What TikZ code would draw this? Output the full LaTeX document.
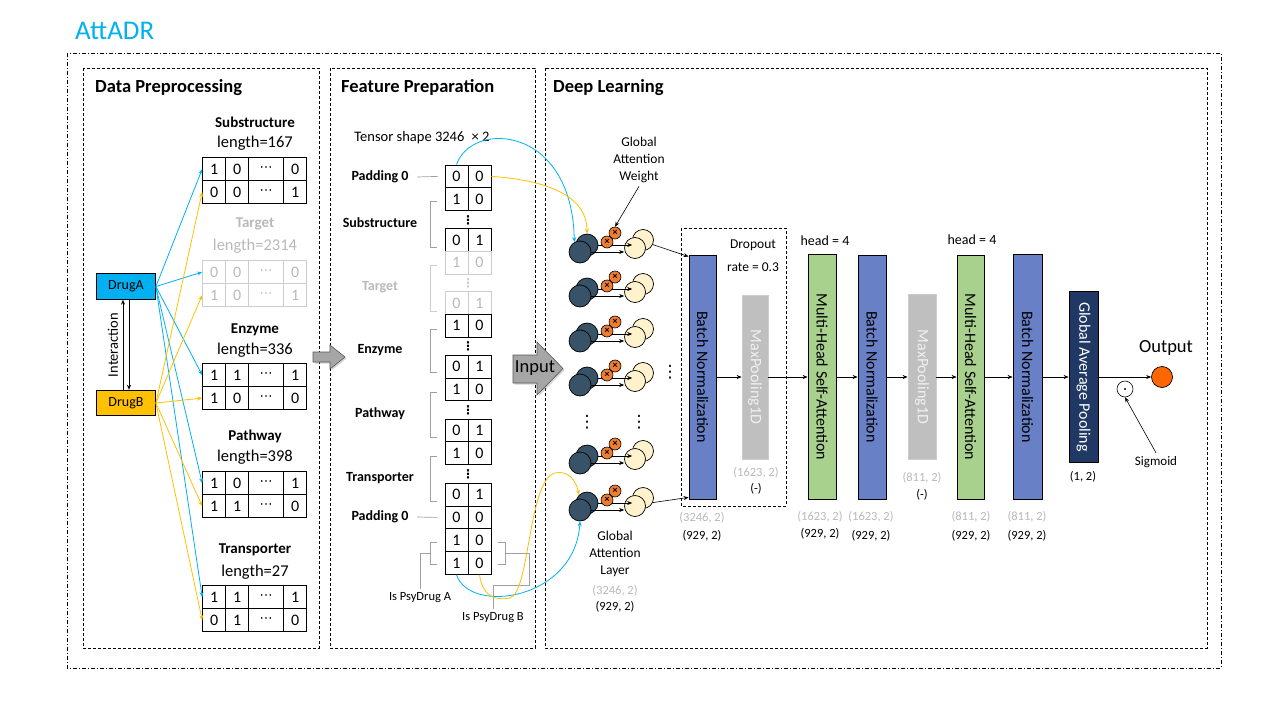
\documentclass[tikz,border=0pt]{standalone}
\usepackage{fontspec}
\setmainfont{Carlito}
\newfontfamily\dotsfont{DejaVu Sans}
\usetikzlibrary{positioning}
\usetikzlibrary{arrows.meta}
\usetikzlibrary{matrix}
\usetikzlibrary{shadows}

\definecolor{drugblue}{RGB}{0,176,240}
\definecolor{drugyellow}{RGB}{255,192,0}
\definecolor{bnblue}{RGB}{104,128,198}
\definecolor{attgreen}{RGB}{169,209,142}
\definecolor{poolgrey}{RGB}{191,191,191}
\definecolor{gapnavy}{RGB}{31,56,100}
\definecolor{shapegrey}{RGB}{185,185,185}
\definecolor{targetgrey}{RGB}{205,205,205}
\definecolor{bracketgrey}{RGB}{160,160,160}
\definecolor{neurondark}{RGB}{56,82,104}
\definecolor{neuronlight}{RGB}{255,242,204}
\definecolor{weightorange}{RGB}{237,125,49}
\definecolor{outorange}{RGB}{255,102,0}
\definecolor{inputgrey}{RGB}{166,166,166}

\begin{document}
\begin{tikzpicture}[x=1pt, y=-1pt, >={Stealth[length=5pt,width=4pt]},
    outer/.style={draw, line width=0.8pt, dash pattern=on 4pt off 2pt on 1pt off 2pt},
    panel/.style={draw, line width=0.8pt, dash pattern=on 3pt off 2pt},
    ptitle/.style={anchor=base west, inner sep=0pt, font=\fontsize{18.5}{22}\selectfont\bfseries},
    drug/.style={draw, line width=0.8pt, minimum width=59pt, minimum height=25.5pt, font=\fontsize{14}{17}\selectfont},
    ttitle/.style={font=\fontsize{15}{18}\selectfont\bfseries},
    tlen/.style={font=\fontsize{16.5}{19}\selectfont},
    tbl/.style={matrix of nodes, inner sep=0pt, column sep=-0.8pt, row sep=-0.8pt, anchor=north west,
        nodes={draw, line width=0.8pt, anchor=center, minimum width=23pt, minimum height=23pt, inner sep=0pt, font=\fontsize{16}{19}\selectfont},
        column 3/.style={nodes={minimum width=35pt, font=\fontsize{13}{19}\dotsfont}}},
    fcell/.style={draw, line width=0.8pt, minimum width=23pt, minimum height=22.8pt, inner sep=0pt, font=\fontsize{16}{19}\selectfont},
    flabel/.style={font=\fontsize{14}{17}\selectfont\bfseries},
    fdots/.style={inner sep=0pt, font=\fontsize{12}{12}\dotsfont\bfseries},
    ndots/.style={inner sep=0pt, font=\fontsize{17}{17}\dotsfont},
    bline/.style={draw=bracketgrey, line width=0.7pt},
    barrow/.style={->, draw=drugblue, line width=0.8pt},
    yarrow/.style={->, draw=drugyellow, line width=0.8pt},
    arr/.style={->, line width=0.8pt},
    blockarrow/.style={fill=inputgrey, draw=black!65, line width=0.6pt, drop shadow={shadow xshift=1.5pt, shadow yshift=-1.5pt, opacity=0.35}},
    ndark/.style={circle, draw, line width=0.7pt, fill=neurondark, minimum size=22pt, inner sep=0pt},
    nlight/.style={circle, draw, line width=0.7pt, fill=neuronlight, minimum size=21pt, inner sep=0pt},
    nweight/.style={circle, draw, line width=0.6pt, fill=weightorange, minimum size=12pt, inner sep=0pt, font=\fontsize{10}{10}\selectfont\bfseries},
    layer/.style={draw, line width=0.8pt, rotate=-90, inner sep=0pt, font=\fontsize{16}{19}\selectfont},
    dlabel/.style={font=\fontsize{13.5}{17}\selectfont, align=center},
    dimg/.style={text=shapegrey, font=\fontsize{12.5}{14}\selectfont},
    dimb/.style={font=\fontsize{12.5}{14}\selectfont}]

\useasboundingbox (0,0) rectangle (1280,720);

\node[anchor=base west, inner sep=0pt, text=drugblue, font=\fontsize{27}{32}\selectfont] (title) at (75,39) {AttADR};
\draw[outer] (67,53) rectangle (1221,668);
\draw[panel] (83,68) rectangle (319,648);
\draw[panel] (330,68) rectangle (535,648);
\draw[panel] (545,68) rectangle (1207,648);
\node[ptitle] (dataT) at (95,92) {Data Preprocessing};
\node[ptitle] (featT) at (341,92) {Feature Preparation};
\node[ptitle] (deepT) at (553,92) {Deep Learning};

% data preprocessing
\node[drug, fill=drugblue] (drugA) at (126,286.5) {DrugA};
\node[drug, fill=drugyellow] (drugB) at (126,403) {DrugB};
\draw[arr] ([xshift=-3pt]drugB.north) -- ([xshift=-3pt]drugA.south);
\draw[arr] ([xshift=3pt]drugA.south) -- ([xshift=3pt]drugB.north);
\node[rotate=90, font=\fontsize{14.5}{17}\selectfont] (inter) at (113,345) {Interaction};

\node[ttitle] (subT) at (255,122) {Substructure};
\node[tlen] (subL) at (255,143) {length=167};
\matrix (sub) [tbl] at (202,157) {1 & 0 & ⋯ & 0\\ 0 & 0 & ⋯ & 1\\};
\node[ttitle, text=shapegrey] (tarT) at (255,224) {Target};
\node[tlen, text=shapegrey] (tarL) at (255,246) {length=2314};
\matrix (tar) [tbl, nodes={draw=targetgrey, text=shapegrey}] at (202,260) {0 & 0 & ⋯ & 0\\ 1 & 0 & ⋯ & 1\\};
\node[ttitle] (enzT) at (255,330) {Enzyme};
\node[tlen] (enzL) at (255,350) {length=336};
\matrix (enz) [tbl] at (202,363) {1 & 1 & ⋯ & 1\\ 1 & 0 & ⋯ & 0\\};
\node[ttitle] (patT) at (255,436) {Pathway};
\node[tlen] (patL) at (255,457) {length=398};
\matrix (pat) [tbl] at (202,471) {1 & 0 & ⋯ & 1\\ 1 & 1 & ⋯ & 0\\};
\node[ttitle] (traT) at (255,550) {Transporter};
\node[tlen] (traL) at (255,572) {length=27};
\matrix (tra) [tbl] at (202,585) {1 & 1 & ⋯ & 1\\ 0 & 1 & ⋯ & 0\\};

\draw[barrow] (drugA.east) -- (sub-1-1.west);
\draw[barrow] (drugA.east) -- (tar-1-1.west);
\draw[barrow] (drugA.east) -- (enz-1-1.west);
\draw[barrow] (drugA.east) -- (pat-1-1.west);
\draw[barrow] (drugA.east) -- (tra-1-1.west);
\draw[yarrow] (drugB.east) -- (sub-2-1.west);
\draw[yarrow] (drugB.east) -- (tar-2-1.west);
\draw[yarrow] (drugB.east) -- (enz-2-1.west);
\draw[yarrow] (drugB.east) -- (pat-2-1.west);
\draw[yarrow] (drugB.east) -- (tra-2-1.west);

\filldraw[blockarrow] (313,352) -- (330,352) -- (330,345) -- (345,357) -- (330,369) -- (330,362) -- (313,362) -- cycle;

% feature preparation
\node[font=\fontsize{14.5}{17}\selectfont] (tshape) at (422,138) {Tensor shape 3246\enspace× 2};
\node[fcell] (p0l) at (456.5,176.4) {0}; \node[fcell] (p0r) at (479.5,176.4) {0};
\node[fcell] (s1l) at (456.5,199.2) {1}; \node[fcell] (s1r) at (479.5,199.2) {0};
\node[fcell] (s2l) at (456.5,240) {0}; \node[fcell] (s2r) at (479.5,240) {1};
\node[fcell, draw=targetgrey, text=shapegrey] (t1l) at (456.5,262.8) {1}; \node[fcell, draw=targetgrey, text=shapegrey] (t1r) at (479.5,262.8) {0};
\node[fcell, draw=targetgrey, text=shapegrey] (t2l) at (456.5,303) {0}; \node[fcell, draw=targetgrey, text=shapegrey] (t2r) at (479.5,303) {1};
\node[fcell] (e1l) at (456.5,325.8) {1}; \node[fcell] (e1r) at (479.5,325.8) {0};
\node[fcell] (e2l) at (456.5,366.6) {0}; \node[fcell] (e2r) at (479.5,366.6) {1};
\node[fcell] (pa1l) at (456.5,389.4) {1}; \node[fcell] (pa1r) at (479.5,389.4) {0};
\node[fcell] (pa2l) at (456.5,430.4) {0}; \node[fcell] (pa2r) at (479.5,430.4) {1};
\node[fcell] (tr1l) at (456.5,453.2) {1}; \node[fcell] (tr1r) at (479.5,453.2) {0};
\node[fcell] (tr2l) at (456.5,494.6) {0}; \node[fcell] (tr2r) at (479.5,494.6) {1};
\node[fcell] (p1l) at (456.5,517.4) {0}; \node[fcell] (p1r) at (479.5,517.4) {0};
\node[fcell] (al) at (456.5,540.2) {1}; \node[fcell] (ar) at (479.5,540.2) {0};
\node[fcell] (bl) at (456.5,563) {1}; \node[fcell] (br) at (479.5,563) {0};

\node[fdots] (sdots) at (468,220) {⋮};
\node[fdots, text=targetgrey] (tdots) at (468,283) {⋮};
\node[fdots] (edots) at (468,346) {⋮};
\node[fdots] (padots) at (468,410) {⋮};
\node[fdots] (trdots) at (468,474) {⋮};

\node[flabel] (pad0) at (380,177) {Padding 0};
\node[flabel] (subF) at (380,223) {Substructure};
\node[flabel, text=shapegrey] (tarF) at (380,287) {Target};
\node[flabel] (enzF) at (380,350) {Enzyme};
\node[flabel] (patF) at (380,414) {Pathway};
\node[flabel] (traF) at (380,478) {Transporter};
\node[flabel] (pad1) at (380,517) {Padding 0};
\draw[bline] ([xshift=5pt]pad0.east) -- ([xshift=-7pt]p0l.west);
\draw[bline] ([xshift=5pt]pad1.east) -- ([xshift=-7pt]p1l.west);
\draw[bline] (437,201) -| (430,247) -- (437,247);
\draw[bline, draw=targetgrey] (437,265) -| (430,311) -- (437,311);
\draw[bline] (437,329) -| (430,372) -- (437,372);
\draw[bline] (437,392) -| (430,437) -- (437,437);
\draw[bline] (437,456) -| (430,501) -- (437,501);

\node[font=\fontsize{12.5}{14}\selectfont] (isA) at (420,598) {Is PsyDrug A};
\node[font=\fontsize{12.5}{14}\selectfont] (isB) at (493,618) {Is PsyDrug B};
\draw[bline] (437,542) -| (430,564) -- (437,564);
\draw[bline] (430,553) -| (isA.north);
\draw[bline] (498,542) -| (505,564) -- (498,564);
\draw[bline] (505,553) -| (529,585) -| (isB.north);

\filldraw[blockarrow] (513,355) -- (537,355) -- (537,342) -- (563,368.5) -- (537,395) -- (537,383) -- (513,383) -- cycle;
\node[font=\fontsize{18.5}{22}\selectfont] (input) at (535,368) {Input};

% deep learning
\node[ndark] (kb1) at (587,245) {};
\node[ndark] (kf1) at (580,252) {};
\node[nlight] (lb1) at (643,240) {};
\node[nlight] (lf1) at (635,248) {};
\draw[arr, line width=0.6pt] (kb1.east) -- (kb1.east -| lb1.west);
\draw[arr, line width=0.6pt] (kf1.east) -- (kf1.east -| lf1.west);
\node[nweight] (wb1) at (615,233) {×};
\node[nweight] (wf1) at (607,242) {×};

\node[ndark] (kb2) at (587,289) {};
\node[ndark] (kf2) at (580,296) {};
\node[nlight] (lb2) at (643,284) {};
\node[nlight] (lf2) at (635,292) {};
\draw[arr, line width=0.6pt] (kb2.east) -- (kb2.east -| lb2.west);
\draw[arr, line width=0.6pt] (kf2.east) -- (kf2.east -| lf2.west);
\node[nweight] (wb2) at (615,277) {×};
\node[nweight] (wf2) at (607,286) {×};

\node[ndark] (kb3) at (587,334) {};
\node[ndark] (kf3) at (580,341) {};
\node[nlight] (lb3) at (643,329) {};
\node[nlight] (lf3) at (635,337) {};
\draw[arr, line width=0.6pt] (kb3.east) -- (kb3.east -| lb3.west);
\draw[arr, line width=0.6pt] (kf3.east) -- (kf3.east -| lf3.west);
\node[nweight] (wb3) at (615,322) {×};
\node[nweight] (wf3) at (607,331) {×};

\node[ndark] (kb4) at (587,378) {};
\node[ndark] (kf4) at (580,385) {};
\node[nlight] (lb4) at (643,373) {};
\node[nlight] (lf4) at (635,381) {};
\draw[arr, line width=0.6pt] (kb4.east) -- (kb4.east -| lb4.west);
\draw[arr, line width=0.6pt] (kf4.east) -- (kf4.east -| lf4.west);
\node[nweight] (wb4) at (615,366) {×};
\node[nweight] (wf4) at (607,375) {×};

\node[ndark] (kb5) at (587,456) {};
\node[ndark] (kf5) at (580,463) {};
\node[nlight] (lb5) at (643,451) {};
\node[nlight] (lf5) at (635,459) {};
\draw[arr, line width=0.6pt] (kb5.east) -- (kb5.east -| lb5.west);
\draw[arr, line width=0.6pt] (kf5.east) -- (kf5.east -| lf5.west);
\node[nweight] (wb5) at (615,444) {×};
\node[nweight] (wf5) at (607,453) {×};

\node[ndark] (kb6) at (587,503) {};
\node[ndark] (kf6) at (580,510) {};
\node[nlight] (lb6) at (643,498) {};
\node[nlight] (lf6) at (635,506) {};
\draw[arr, line width=0.6pt] (kb6.east) -- (kb6.east -| lb6.west);
\draw[arr, line width=0.6pt] (kf6.east) -- (kf6.east -| lf6.west);
\node[nweight] (wb6) at (615,491) {×};
\node[nweight] (wf6) at (607,500) {×};

\node[ndots] (kdots) at (587,422) {⋮};
\node[ndots] (ldots) at (639,422) {⋮};
\node[ndots] (rdots) at (670,372) {⋮};

\node[dlabel] (gaw) at (639,160) {Global\\Attention\\Weight};
\draw[arr, line width=0.6pt] (gaw.south) -- (wb1.north);
\node[dlabel] (gal) at (615,554) {Global\\Attention\\Layer};
\node[dimg] (galS) at (615,591) {(3246, 2)};
\node[dimb] (galD) at (615,607) {(929, 2)};

\draw[panel] (681,228) rectangle (786,506);
\node[dlabel] (drop) at (753,245) {Dropout};
\node[dlabel] (rate) at (753,267) {rate = 0.3};

\node[layer, fill=bnblue, minimum width=244pt, minimum height=27pt] (bn1) at (702.5,377) {Batch Normalization};
\node[layer, fill=poolgrey, draw=targetgrey, text=white!94!black, minimum width=164pt, minimum height=26pt] (mp1) at (755,377) {MaxPooling1D};
\node[layer, fill=attgreen, minimum width=245pt, minimum height=28pt] (mh1) at (822,377) {Multi-Head Self-Attention};
\node[layer, fill=bnblue, minimum width=244pt, minimum height=28pt] (bn2) at (872,377) {Batch Normalization};
\node[layer, fill=poolgrey, draw=targetgrey, text=white!94!black, minimum width=165pt, minimum height=28pt] (mp2) at (922,377) {MaxPooling1D};
\node[layer, fill=attgreen, minimum width=244pt, minimum height=27pt] (mh2) at (970.5,377) {Multi-Head Self-Attention};
\node[layer, fill=bnblue, minimum width=245pt, minimum height=29pt] (bn3) at (1027.5,377) {Batch Normalization};
\node[layer, fill=gapnavy, text=white, minimum width=171pt, minimum height=29pt] (gap) at (1083.5,377) {Global Average Pooling};

\node[dlabel, font=\fontsize{14}{17}\selectfont] (head1) at (825,241) {head = 4};
\node[dlabel, font=\fontsize{14}{17}\selectfont] (head2) at (972,240) {head = 4};

\node[dimg] (bn1S) at (702,518) {(3246, 2)};
\node[dimb] (bn1D) at (702,536) {(929, 2)};
\node[dimg] (mp1S) at (756,473) {(1623, 2)};
\node[dimb] (mp1D) at (756,489) {(-)};
\node[dimg] (mh1S) at (820,517) {(1623, 2)};
\node[dimb] (mh1D) at (820,534) {(929, 2)};
\node[dimg] (bn2S) at (871,517) {(1623, 2)};
\node[dimb] (bn2D) at (871,536) {(929, 2)};
\node[dimg] (mp2S) at (922,478) {(811, 2)};
\node[dimb] (mp2D) at (922,495) {(-)};
\node[dimg] (mh2S) at (971,517) {(811, 2)};
\node[dimb] (mh2D) at (971,536) {(929, 2)};
\node[dimg] (bn3S) at (1027,517) {(811, 2)};
\node[dimb] (bn3D) at (1027,536) {(929, 2)};
\node[dimb] (gapD) at (1083,477) {(1, 2)};

\node[circle, draw, line width=0.7pt, fill=outorange, minimum size=21pt, inner sep=0pt] (out) at (1162,377) {};
\node[font=\fontsize{18.5}{22}\selectfont] (outT) at (1166,348) {Output};
\node[circle, draw, line width=0.6pt, minimum size=16pt, inner sep=0pt] (sig) at (1125,389) {};
\fill (sig.center) circle (1.1);
\node[font=\fontsize{13}{15}\selectfont] (sigT) at (1156,462) {Sigmoid};

\draw[arr, line width=0.6pt] (lb1.-25) -- ([yshift=-2pt]bn1.south west);
\draw[arr, line width=0.6pt] (lb6.-25) -- ([yshift=2pt]bn1.south east);
\draw[arr, line width=0.6pt] (bn1.north) -- (mp1.south);
\draw[arr, line width=0.6pt] (mp1.north) -- (mh1.south);
\draw[arr, line width=0.6pt] (mh1.north) -- (bn2.south);
\draw[arr, line width=0.6pt] (bn2.north) -- (mp2.south);
\draw[arr, line width=0.6pt] (mp2.north) -- (mh2.south);
\draw[arr, line width=0.6pt] (mh2.north) -- (bn3.south);
\draw[arr, line width=0.6pt] (bn3.north) -- (gap.south);
\draw[arr, line width=0.6pt] (gap.north) -- (out);
\draw[arr, line width=0.6pt] (sigT.north) -- (sig.south);

% tensor rows into the attention layer
\draw[barrow] (p0l.north) .. controls (472,120) and (572,125) .. (kf1.120);
\draw[yarrow] (p0r.east) .. controls (545,180) and (587,195) .. (kb1.north);
\draw[barrow] (bl.south) .. controls (470,615) and (575,600) .. (kf6.south);
\draw[yarrow] (br.south) .. controls (483,600) and (500,600) .. (510,598) .. controls (530,592) and (528,480) .. (555,473) .. controls (568,470) and (576,480) .. (kb6.135);
\end{tikzpicture}
\end{document}
